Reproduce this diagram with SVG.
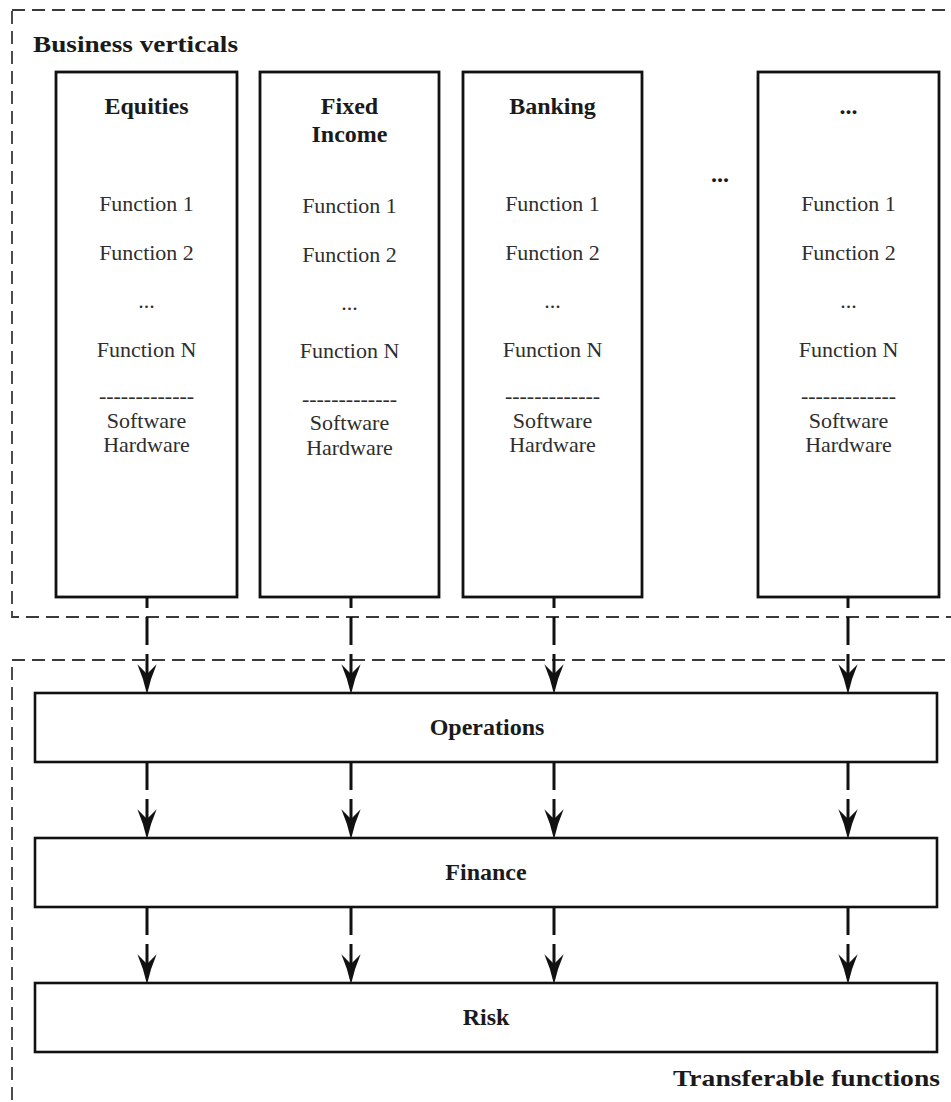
<svg xmlns="http://www.w3.org/2000/svg" width="951" height="1102" viewBox="0 0 951 1102">
<style>
.bg{fill:#fff}
.region{fill:none;stroke:#3a3a3a;stroke-width:1.8;stroke-dasharray:13 7}
.col{fill:#fff;stroke:#111;stroke-width:2.8}
.bar{fill:#fff;stroke:#111;stroke-width:2.6}
.t{font-family:"Liberation Serif","Times New Roman",serif;text-anchor:middle}
.b{font-weight:bold;fill:#1a1a1a;font-size:24px}
.r{fill:#2e2e2e;font-size:22px}
.h{font-family:"Liberation Serif","Times New Roman",serif;font-weight:bold;fill:#1a1a1a;font-size:24px}
.conn{fill:none;stroke:#111;stroke-width:3;stroke-dasharray:28 9}
.c1{stroke-dashoffset:17}
</style>
<defs>
<marker id="ah" markerUnits="userSpaceOnUse" markerWidth="30" markerHeight="20" viewBox="0 0 28 18" refX="9" refY="9" orient="auto">
<path d="M0,0 Q14,6 28,9 Q14,12 0,18 L9,9 Z" fill="#111"/>
</marker>
</defs>
<rect class="bg" x="0" y="0" width="951" height="1102"/>

<g id="region-business">
<rect class="region" x="12" y="10" width="970" height="607"/>
<text class="h" x="33" y="52" textLength="205" lengthAdjust="spacingAndGlyphs">Business verticals</text>
</g>

<g id="region-transferable">
<rect class="region" x="12" y="660" width="970" height="470"/>
<text class="h" x="673" y="1086" textLength="267" lengthAdjust="spacingAndGlyphs">Transferable functions</text>
</g>

<g id="equities">
<rect class="col" x="56" y="72" width="181" height="525"/>
<text class="t b" x="146.5" y="114">Equities</text>
<text class="t r" x="146.5" y="211">Function 1</text>
<text class="t r" x="146.5" y="260">Function 2</text>
<text class="t r" x="146.5" y="308">...</text>
<text class="t r" x="146.5" y="357">Function N</text>
<text class="t r" x="146.5" y="403">-------------</text>
<text class="t r" x="146.5" y="428">Software</text>
<text class="t r" x="146.5" y="452">Hardware</text>
</g>

<g id="fixed-income">
<rect class="col" x="260" y="72" width="179" height="525"/>
<text class="t b" x="349.5" y="114">Fixed</text>
<text class="t b" x="349.5" y="142">Income</text>
<text class="t r" x="349.5" y="213">Function 1</text>
<text class="t r" x="349.5" y="262">Function 2</text>
<text class="t r" x="349.5" y="310">...</text>
<text class="t r" x="349.5" y="358">Function N</text>
<text class="t r" x="349.5" y="406">-------------</text>
<text class="t r" x="349.5" y="430">Software</text>
<text class="t r" x="349.5" y="455">Hardware</text>
</g>

<g id="banking">
<rect class="col" x="463" y="72" width="179" height="525"/>
<text class="t b" x="552.5" y="114">Banking</text>
<text class="t r" x="552.5" y="211">Function 1</text>
<text class="t r" x="552.5" y="260">Function 2</text>
<text class="t r" x="552.5" y="308">...</text>
<text class="t r" x="552.5" y="357">Function N</text>
<text class="t r" x="552.5" y="403">-------------</text>
<text class="t r" x="552.5" y="428">Software</text>
<text class="t r" x="552.5" y="452">Hardware</text>
</g>

<g id="ellipsis-gap">
<text class="t b" x="720" y="182">...</text>
</g>

<g id="other-vertical">
<rect class="col" x="758" y="72" width="181" height="525"/>
<text class="t b" x="848.5" y="114">...</text>
<text class="t r" x="848.5" y="211">Function 1</text>
<text class="t r" x="848.5" y="260">Function 2</text>
<text class="t r" x="848.5" y="308">...</text>
<text class="t r" x="848.5" y="357">Function N</text>
<text class="t r" x="848.5" y="403">-------------</text>
<text class="t r" x="848.5" y="428">Software</text>
<text class="t r" x="848.5" y="452">Hardware</text>
</g>

<g id="operations">
<rect class="bar" x="35" y="693" width="902" height="69"/>
<text class="t b" x="487" y="735">Operations</text>
</g>

<g id="finance">
<rect class="bar" x="35" y="838" width="902" height="69"/>
<text class="t b" x="486" y="880">Finance</text>
</g>

<g id="risk">
<rect class="bar" x="35" y="983" width="902" height="69"/>
<text class="t b" x="486" y="1025">Risk</text>
</g>

<g id="connectors">
<line class="conn c1" x1="147" y1="597" x2="147" y2="674" marker-end="url(#ah)"/>
<line class="conn c1" x1="351" y1="597" x2="351" y2="674" marker-end="url(#ah)"/>
<line class="conn c1" x1="554" y1="597" x2="554" y2="674" marker-end="url(#ah)"/>
<line class="conn c1" x1="848" y1="597" x2="848" y2="674" marker-end="url(#ah)"/>
<line class="conn" x1="147" y1="762" x2="147" y2="819" marker-end="url(#ah)"/>
<line class="conn" x1="351" y1="762" x2="351" y2="819" marker-end="url(#ah)"/>
<line class="conn" x1="554" y1="762" x2="554" y2="819" marker-end="url(#ah)"/>
<line class="conn" x1="848" y1="762" x2="848" y2="819" marker-end="url(#ah)"/>
<line class="conn" x1="147" y1="907" x2="147" y2="964" marker-end="url(#ah)"/>
<line class="conn" x1="351" y1="907" x2="351" y2="964" marker-end="url(#ah)"/>
<line class="conn" x1="554" y1="907" x2="554" y2="964" marker-end="url(#ah)"/>
<line class="conn" x1="848" y1="907" x2="848" y2="964" marker-end="url(#ah)"/>
</g>
</svg>
